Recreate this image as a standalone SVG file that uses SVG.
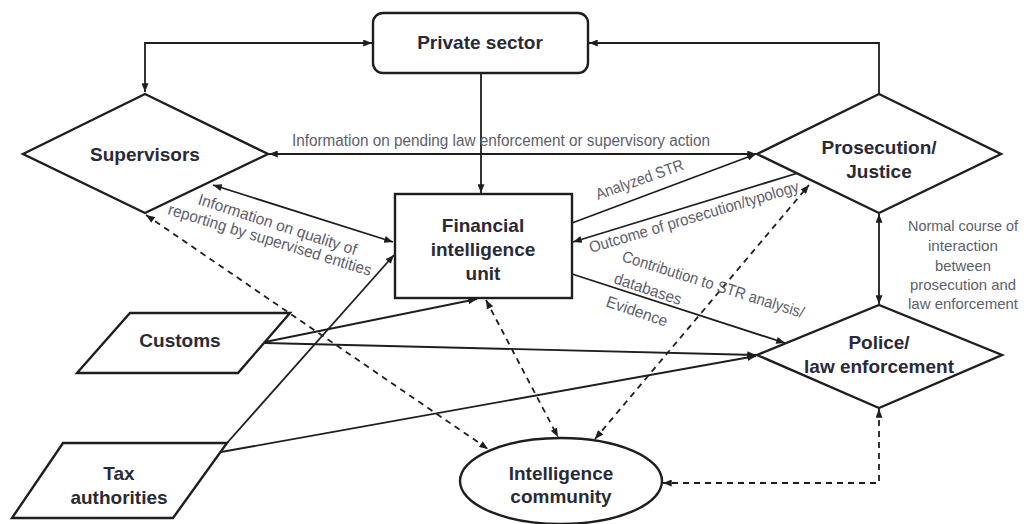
<svg xmlns="http://www.w3.org/2000/svg" width="1027" height="524" viewBox="0 0 1027 524">
<style>
.shape{fill:#fff;stroke:#1e1e1e;stroke-width:2.4}
.conn{fill:none;stroke:#1e1e1e;stroke-width:1.8}
.dash{stroke-dasharray:6 5}
.node{font-family:"Liberation Sans",Arial,sans-serif;font-weight:bold;font-size:19px;fill:#2a2a36;text-anchor:middle}
.lab{font-family:"Liberation Sans Narrow","Liberation Sans",Arial,sans-serif;font-size:16px;fill:#5e5e6a}
.mid{text-anchor:middle;font-size:15px}
</style>
<defs>
<marker id="ah" viewBox="0 0 10 8" markerWidth="9" markerHeight="7" refX="10" refY="4" orient="auto-start-reverse" markerUnits="userSpaceOnUse">
<path d="M0,0 L10,4 L0,8 z" fill="#1e1e1e"/>
</marker>
</defs>
<rect width="1027" height="524" fill="#fff"/>

<g id="connectors">
<path class="conn" d="M145,92 V43 H372" marker-start="url(#ah)" marker-end="url(#ah)"/>
<path class="conn" d="M879,94 V43 H589" marker-end="url(#ah)"/>
<path class="conn" d="M481,73 V193" marker-end="url(#ah)"/>
<path class="conn" d="M269,154 H756" marker-start="url(#ah)" marker-end="url(#ah)"/>
<path class="conn" d="M213,185 L393,242" marker-start="url(#ah)" marker-end="url(#ah)"/>
<path class="conn" d="M572,223 L756,154" marker-end="url(#ah)"/>
<path class="conn" d="M798,173 L573,242" marker-end="url(#ah)"/>
<path class="conn" d="M572,274 L785,343" marker-end="url(#ah)"/>
<path class="conn" d="M879,214 V304" marker-start="url(#ah)" marker-end="url(#ah)"/>
<path class="conn" d="M265,342 L477,299" marker-end="url(#ah)"/>
<path class="conn" d="M265,343 L756,355" marker-end="url(#ah)"/>
<path class="conn" d="M227,443 L394,255" marker-end="url(#ah)"/>
<path class="conn" d="M221,452 L756,356" marker-end="url(#ah)"/>
<path class="conn dash" d="M146,215 L488,449" marker-start="url(#ah)" marker-end="url(#ah)"/>
<path class="conn dash" d="M486,300 L558,437" marker-start="url(#ah)" marker-end="url(#ah)"/>
<path class="conn dash" d="M595,439 L809,185" marker-start="url(#ah)" marker-end="url(#ah)"/>
<path class="conn dash" d="M879,409 V483 H663" marker-start="url(#ah)" marker-end="url(#ah)"/>
</g>

<g id="labels">
<text class="lab" x="292" y="146" textLength="418" lengthAdjust="spacingAndGlyphs">Information on pending law enforcement or supervisory action</text>
<text class="lab" transform="translate(598,200) rotate(-19.5)" textLength="92" lengthAdjust="spacingAndGlyphs">Analyzed STR</text>
<text class="lab" transform="translate(591,253) rotate(-16.5)" textLength="218" lengthAdjust="spacingAndGlyphs">Outcome of prosecution/typology</text>
<text class="lab" transform="translate(621,261) rotate(17.5)" textLength="190" lengthAdjust="spacingAndGlyphs">Contribution to STR analysis/</text>
<text class="lab" transform="translate(613,283) rotate(18.5)" textLength="70" lengthAdjust="spacingAndGlyphs">databases</text>
<text class="lab" transform="translate(605,306) rotate(19)" textLength="64" lengthAdjust="spacingAndGlyphs">Evidence</text>
<text class="lab" transform="translate(197,204) rotate(18)" textLength="166" lengthAdjust="spacingAndGlyphs">Information on quality of</text>
<text class="lab" transform="translate(167,214) rotate(17)" textLength="212" lengthAdjust="spacingAndGlyphs">reporting by supervised entities</text>
<text class="lab mid" x="963" y="231" textLength="110" lengthAdjust="spacingAndGlyphs">Normal course of</text>
<text class="lab mid" x="963" y="251" textLength="70" lengthAdjust="spacingAndGlyphs">interaction</text>
<text class="lab mid" x="963" y="271" textLength="56" lengthAdjust="spacingAndGlyphs">between</text>
<text class="lab mid" x="963" y="290" textLength="106" lengthAdjust="spacingAndGlyphs">prosecution and</text>
<text class="lab mid" x="963" y="309" textLength="110" lengthAdjust="spacingAndGlyphs">law enforcement</text>
</g>

<g id="private-sector">
<rect class="shape" x="373" y="13" width="215" height="60" rx="10"/>
<text class="node" x="480" y="49">Private sector</text>
</g>
<g id="supervisors">
<polygon class="shape" points="23,154 145,94 268,154 145,213"/>
<text class="node" x="145" y="161">Supervisors</text>
</g>
<g id="prosecution">
<polygon class="shape" points="757,154 879,94 1001,154 879,213"/>
<text class="node" x="879" y="154">Prosecution/</text>
<text class="node" x="879" y="178">Justice</text>
</g>
<g id="fiu">
<rect class="shape" x="395" y="194" width="177" height="104"/>
<text class="node" x="483" y="232">Financial</text>
<text class="node" x="483" y="256">intelligence</text>
<text class="node" x="483" y="280">unit</text>
</g>
<g id="police">
<polygon class="shape" points="757,355 879,305 1002,355 879,408"/>
<text class="node" x="879" y="349">Police/</text>
<text class="node" x="879" y="373">law enforcement</text>
</g>
<g id="customs">
<polygon class="shape" points="130,313 290,313 238,373 77,373"/>
<text class="node" x="180" y="347">Customs</text>
</g>
<g id="tax">
<polygon class="shape" points="63,443 227,443 173,518 12,518"/>
<text class="node" x="119" y="480">Tax</text>
<text class="node" x="119" y="504">authorities</text>
</g>
<g id="intelligence-community">
<ellipse class="shape" cx="561" cy="481" rx="101" ry="43"/>
<text class="node" x="561" y="480">Intelligence</text>
<text class="node" x="561" y="503">community</text>
</g>
</svg>
